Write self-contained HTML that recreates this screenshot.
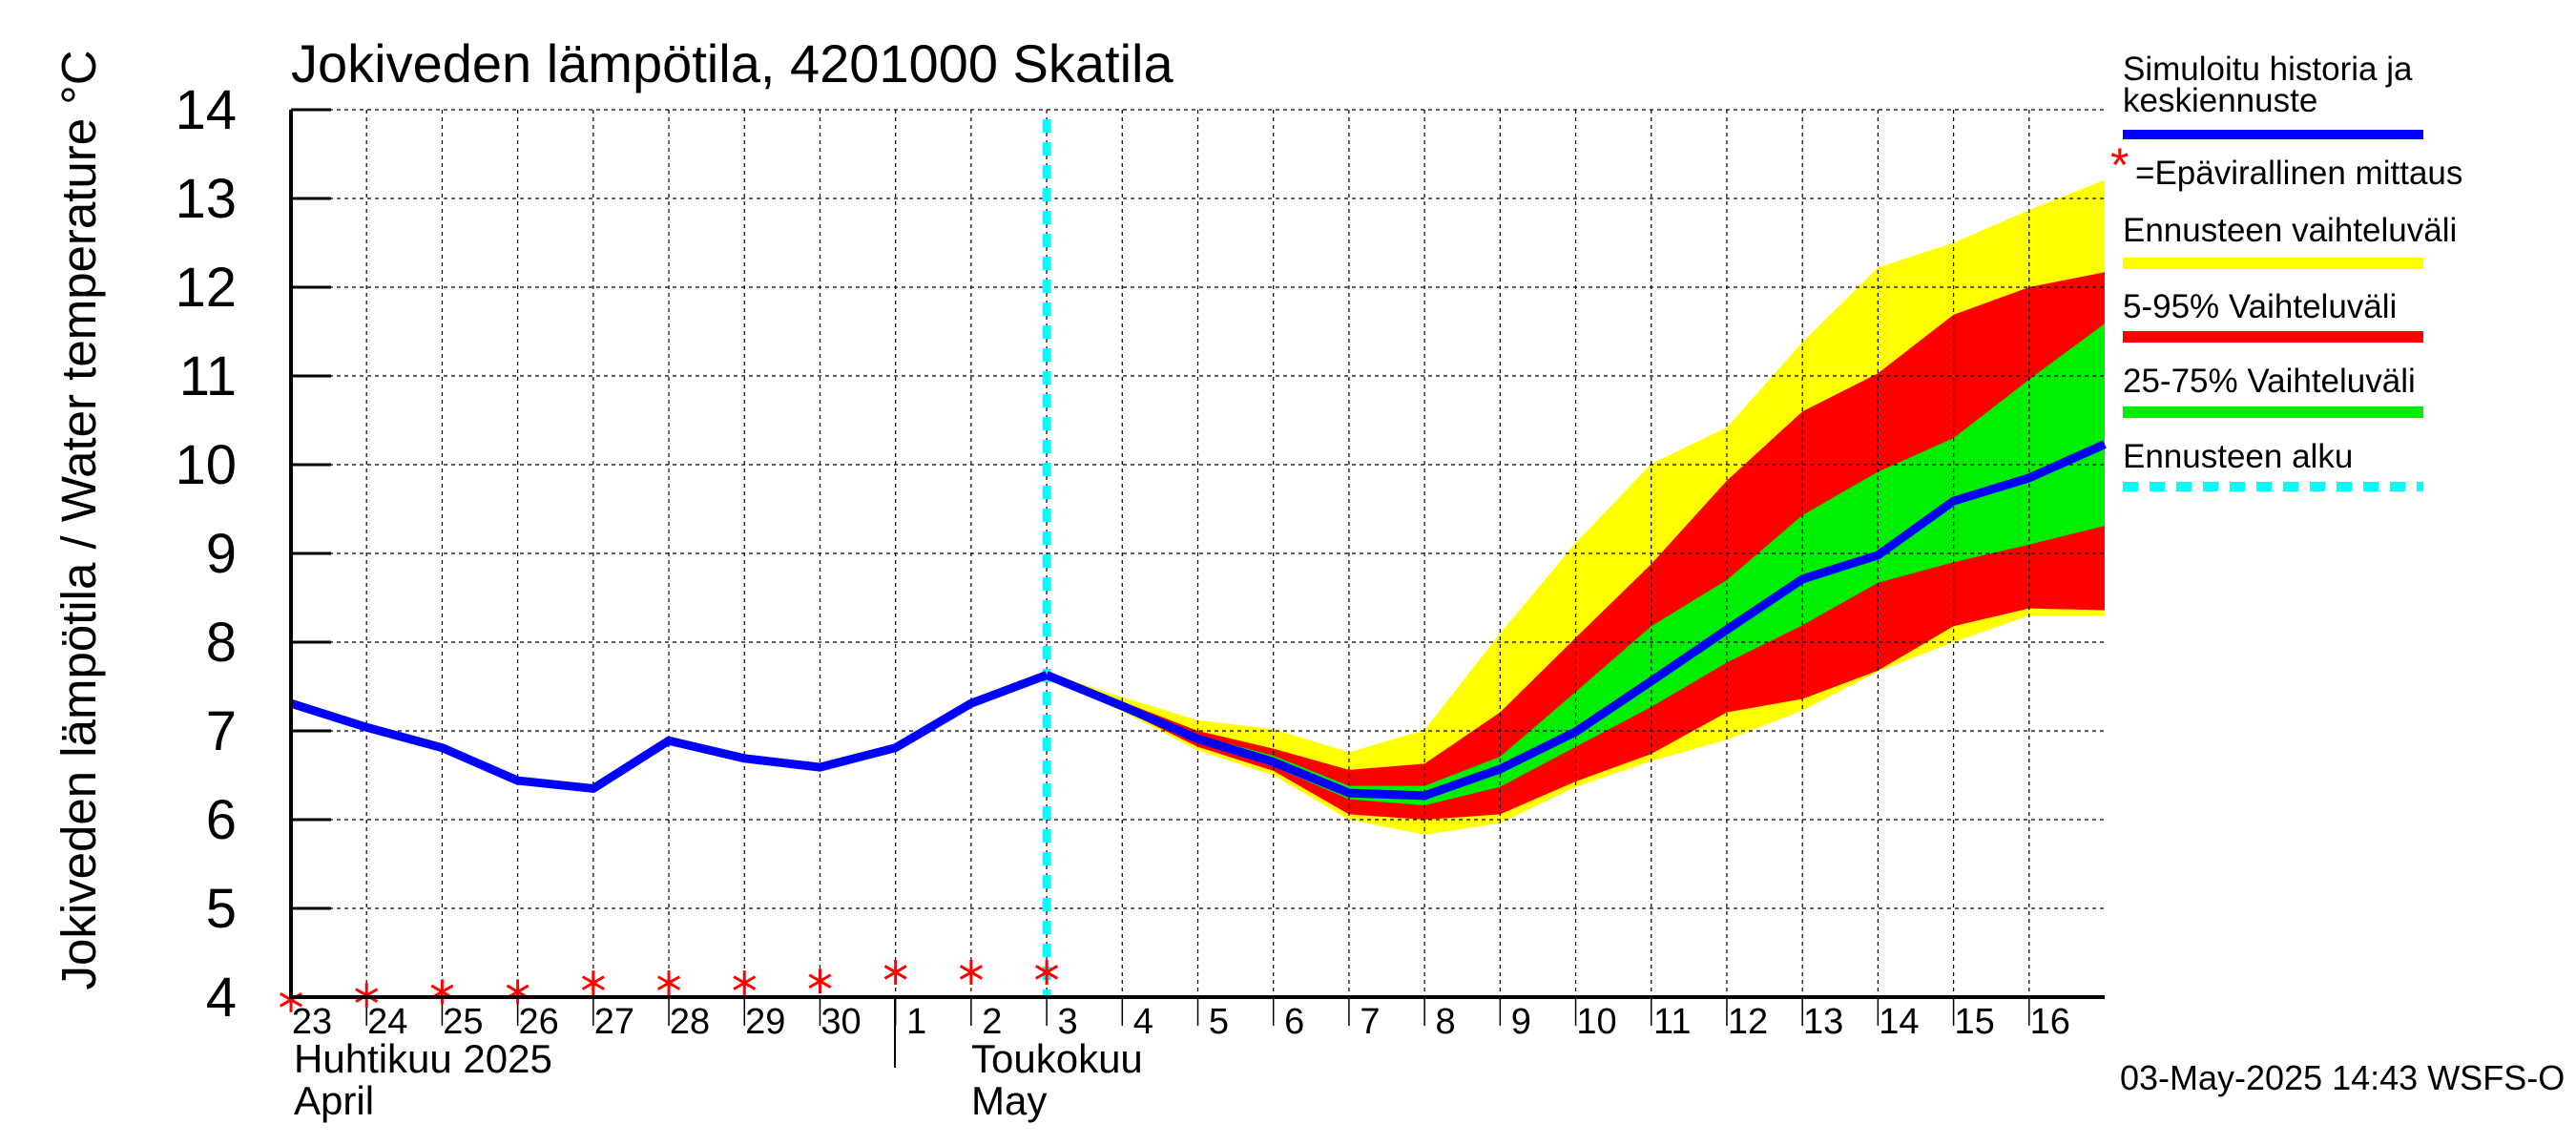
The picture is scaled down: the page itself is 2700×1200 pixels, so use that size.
<!DOCTYPE html>
<html><head><meta charset="utf-8"><style>
html,body{margin:0;padding:0;background:#fff;}
svg{display:block;font-family:"Liberation Sans",sans-serif;}
</style></head><body>
<svg id="chart" width="2700" height="1200" viewBox="0 0 2700 1200" xmlns="http://www.w3.org/2000/svg">
<rect width="2700" height="1200" fill="#fff"/>
<g id="bands"></g>
<g id="grid"></g>
<g id="lines"></g>
<g id="axes"></g>
<text x="305" y="86" font-size="56">Jokiveden lämpötila, 4201000 Skatila</text>
<text transform="translate(100,545) rotate(-90)" text-anchor="middle" font-size="51">Jokiveden lämpötila / Water temperature   °C</text>
<text x="308" y="1124" font-size="42">Huhtikuu  2025</text>
<text x="308" y="1168" font-size="42">April</text>
<text x="1018" y="1124" font-size="42">Toukokuu</text>
<text x="1018" y="1168" font-size="42">May</text>
<line x1="938" y1="1045" x2="938" y2="1119" stroke="#000" stroke-width="2"/>
<g font-size="35">
<text x="2225" y="84">Simuloitu historia ja</text>
<text x="2225" y="117">keskiennuste</text>
<line x1="2225" y1="141" x2="2540" y2="141" stroke="#0000ff" stroke-width="10"/>
<text x="2212" y="190" font-size="50" fill="#ff0000">*</text>
<text x="2238" y="193">=Epävirallinen mittaus</text>
<text x="2225" y="253">Ennusteen vaihteluväli</text>
<line x1="2225" y1="276" x2="2540" y2="276" stroke="#ffff00" stroke-width="12"/>
<text x="2225" y="333">5-95% Vaihteluväli</text>
<line x1="2225" y1="353" x2="2540" y2="353" stroke="#ff0000" stroke-width="12"/>
<text x="2225" y="411">25-75% Vaihteluväli</text>
<line x1="2225" y1="432" x2="2540" y2="432" stroke="#00ee00" stroke-width="12"/>
<text x="2225" y="490">Ennusteen alku</text>
<line x1="2225" y1="510" x2="2540" y2="510" stroke="#00ffff" stroke-width="10" stroke-dasharray="16,12"/>
</g>
<text x="2222" y="1142" font-size="36">03-May-2025 14:43 WSFS-O</text>
</svg>
<script>
const dayLabels=["23","24","25","26","27","28","29","30","1","2","3","4","5","6","7","8","9","10","11","12","13","14","15","16"];
const yTicks=[4,5,6,7,8,9,10,11,12,13,14];
const histValues=[7.31,7.04,6.81,6.44,6.35,6.89,6.69,6.59,6.81,7.31,7.63];
const obsValues=[3.97,4.02,4.06,4.06,4.16,4.16,4.16,4.18,4.28,4.28,4.28];
const medianValues=[7.63,7.28,6.91,6.65,6.30,6.27,6.57,6.99,7.56,8.14,8.71,8.98,9.59,9.85,10.23];
const yellowHigh=[7.66,7.38,7.12,7.02,6.76,7.01,8.10,9.12,10.01,10.42,11.38,12.22,12.50,12.87,13.21];
const yellowLow=[7.60,7.22,6.78,6.50,6.00,5.83,5.96,6.37,6.66,6.90,7.23,7.67,8.00,8.30,8.30];
const redHigh=[7.64,7.33,7.00,6.80,6.56,6.63,7.21,8.05,8.88,9.82,10.60,11.03,11.69,12.00,12.17];
const redLow=[7.62,7.24,6.82,6.55,6.06,6.00,6.06,6.43,6.74,7.21,7.36,7.68,8.18,8.38,8.36];
const greenHigh=[7.63,7.31,6.95,6.72,6.38,6.38,6.71,7.44,8.18,8.70,9.43,9.92,10.30,10.96,11.59];
const greenLow=[7.63,7.26,6.87,6.60,6.23,6.16,6.37,6.82,7.27,7.77,8.19,8.67,8.90,9.10,9.31];
const forecastStartDay=10;

const L=305,R=2206,T=115,B=1045,NDAYS=24;
const X=d=>L+(R-L)*d/NDAYS;
const Y=v=>B-(B-T)*(v-4)/10;
const NS="http://www.w3.org/2000/svg";
function mk(tag,attrs,parent){const e=document.createElementNS(NS,tag);for(const k in attrs)e.setAttribute(k,attrs[k]);document.getElementById(parent).appendChild(e);return e;}

function band(hi,lo,color,name){
  let pts=[];
  hi.forEach((v,i)=>pts.push(X(forecastStartDay+i)+","+Y(v)));
  for(let i=lo.length-1;i>=0;i--)pts.push(X(forecastStartDay+i)+","+Y(lo[i]));
  const p=mk("polygon",{points:pts.join(" "),fill:color},"bands");
  
  
}
band(yellowHigh,yellowLow,"#ffff00","forecast-range-band");
band(redHigh,redLow,"#ff0000","band-5-95");
band(greenHigh,greenLow,"#00ee00","band-25-75");

for(let d=1;d<NDAYS;d++){
  const g=mk("line",{x1:X(d),y1:T,x2:X(d),y2:B,stroke:"#000","stroke-width":1.2,"stroke-dasharray":"4,4"},"grid");
  
  
  const t=mk("line",{x1:X(d),y1:B,x2:X(d),y2:B+30,stroke:"#000","stroke-width":1.5},"grid");
  
  
}
yTicks.forEach(v=>{
  if(v>4){
    const g=mk("line",{x1:L,y1:Y(v),x2:R,y2:Y(v),stroke:"#000","stroke-width":1.2,"stroke-dasharray":"4,4"},"grid");
    
    
  }
  const t=mk("line",{x1:L,y1:Y(v),x2:L+42,y2:Y(v),stroke:"#000","stroke-width":3},"axes");
  
  
  const lb=mk("text",{x:248,y:Y(v)+20,"text-anchor":"end","font-size":58},"axes");
  lb.textContent=v;
  
  
});
dayLabels.forEach((s,i)=>{
  const lb=mk("text",{x:X(i)+22,y:1083,"text-anchor":"middle","font-size":38},"axes");
  lb.textContent=s;
  
  
});
const ax=mk("path",{d:`M${L},${T} L${L},${B} L${R},${B}`,fill:"none",stroke:"#000","stroke-width":4},"axes");



const fs=mk("line",{x1:X(forecastStartDay),y1:T+10,x2:X(forecastStartDay),y2:B,stroke:"#00ffff","stroke-width":9,"stroke-dasharray":"14,10"},"lines");



const hp=histValues.map((v,i)=>X(i)+","+Y(v));
const mp=medianValues.map((v,i)=>X(forecastStartDay+i)+","+Y(v));
const hl=mk("polyline",{points:hp.join(" "),fill:"none",stroke:"#0000ff","stroke-width":9,"stroke-linejoin":"round"},"lines");


const ml=mk("polyline",{points:mp.join(" "),fill:"none",stroke:"#0000ff","stroke-width":9,"stroke-linejoin":"round"},"lines");



obsValues.forEach((v,i)=>{
  const x=X(i),y=Y(v),r=13;
  const g=mk("g",{stroke:"#ff0000","stroke-width":3},"lines");
  
  
  [[0,1],[0.866,0.5],[0.866,-0.5]].forEach(([dx,dy])=>{
    const l=document.createElementNS(NS,"line");
    l.setAttribute("x1",x-dx*r);l.setAttribute("y1",y-dy*r);l.setAttribute("x2",x+dx*r);l.setAttribute("y2",y+dy*r);
    g.appendChild(l);
  });
});
</script>
</body></html>
